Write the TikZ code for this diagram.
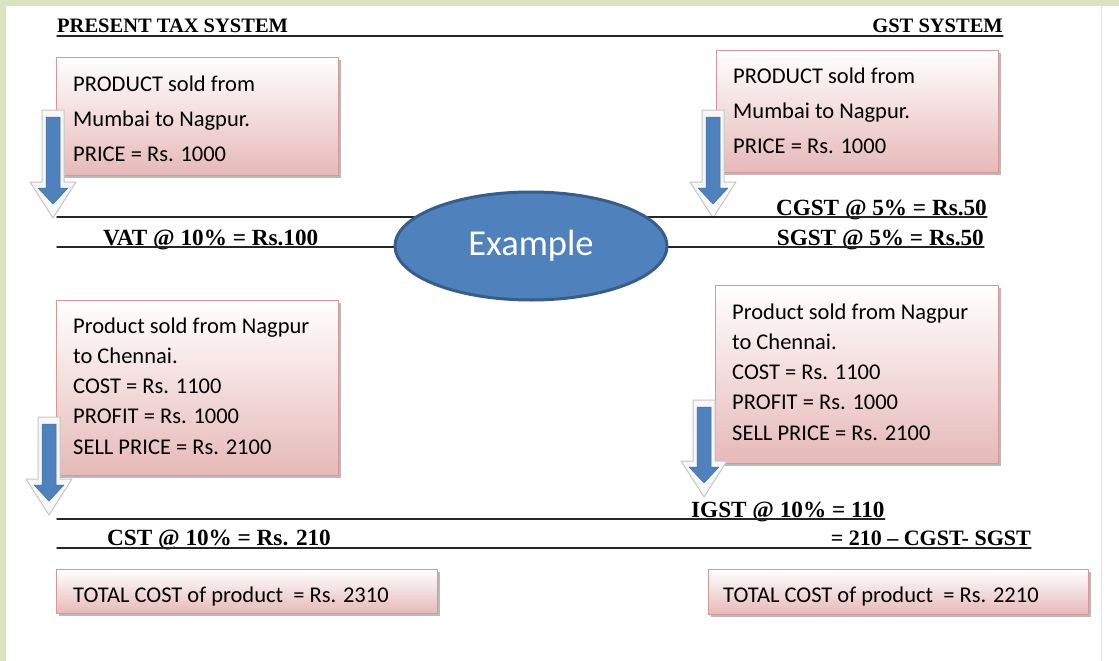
\documentclass[tikz,border=0pt]{standalone}
\usepackage{fontspec}
\setmainfont{Carlito}
\newfontfamily\headfont{Liberation Serif}
\usetikzlibrary{shapes.geometric,shadows}
\definecolor{frame}{HTML}{D7E4BD}
\definecolor{edge}{HTML}{E2E2D6}
\definecolor{pinkfill}{HTML}{E6B9B8}
\definecolor{pinkline}{HTML}{D99694}
\definecolor{ovalblue}{HTML}{4F81BD}
\definecolor{ovalline}{HTML}{385D8A}
\tikzset{
  pbox/.style={draw=pinkline,line width=0.8pt,top color=white,bottom color=pinkfill,
    drop shadow={shadow xshift=3pt,shadow yshift=-3pt,fill=black!45,opacity=.6},anchor=north west,inner sep=0pt},
  btext/.style={anchor=base west,inner sep=0pt,align=left,font=\fontsize{22.5}{35}\selectfont},
  hdr/.style={inner sep=0pt,font=\headfont\bfseries\fontsize{20.5}{24}\selectfont},
  tax/.style={inner sep=0pt,font=\headfont\bfseries\fontsize{23.2}{27}\selectfont},
  rule/.style={line width=1.4pt,black!85},
  oval/.style={ellipse,draw=ovalline,line width=3pt,fill=ovalblue,text=white,
    minimum width=272pt,minimum height=108pt,font=\fontsize{36.5}{42}\selectfont},
  arrowback/.style={fill=gray!6,draw=gray!45,line width=1pt,line join=round},
  arrowfront/.style={fill=ovalblue,draw=ovalblue!85!black,line width=0.5pt}
}
\begin{document}
\begin{tikzpicture}[line cap=round,line join=round,x=1pt,y=-1pt]
	\useasboundingbox (0,0) rectangle (1119,661);
	\fill [frame] (0,0) rectangle (1119,661);
	\fill [white] (6,6) rectangle (1119,661);
	\draw [edge,line width=1pt] (1101,6) -- (1101,661);
	% headings
	\node [hdr,anchor=base west] (hl) at (57,33) {PRESENT TAX SYSTEM};
	\node [hdr,anchor=base east] (hr) at (1003,33) {GST SYSTEM};
	\draw [rule] ([yshift=-3pt]hl.base west) -- ([yshift=-3pt]hr.base east);
	% boxes (text anchored at the last line)
	\node [pbox,minimum width=282pt,minimum height=118pt] (b1) at (56,57) {};
	\node [pbox,minimum width=282pt,minimum height=122pt] (b2) at (716,50) {};
	\node [pbox,minimum width=282pt,minimum height=175pt] (b3) at (56,300) {};
	\node [pbox,minimum width=283pt,minimum height=178pt] (b4) at (715,285) {};
	\node [pbox,minimum width=381pt,minimum height=44pt] (b5) at (56,569) {};
	\node [pbox,minimum width=380pt,minimum height=45pt] (b6) at (708,569) {};
	\node [btext] (t1) at (73,161) {PRODUCT sold from\\Mumbai to Nagpur.\\PRICE = Rs. 1000};
	\node [btext] (t2) at (733,153) {PRODUCT sold from\\Mumbai to Nagpur.\\PRICE = Rs. 1000};
	\node [btext,font=\fontsize{22.5}{30.2}\selectfont] (t3) at (73,454) {Product sold from Nagpur\\to Chennai.\\COST = Rs. 1100\\PROFIT = Rs. 1000\\SELL PRICE = Rs. 2100};
	\node [btext,font=\fontsize{22.5}{30.2}\selectfont] (t4) at (732,440) {Product sold from Nagpur\\to Chennai.\\COST = Rs. 1100\\PROFIT = Rs. 1000\\SELL PRICE = Rs. 2100};
	\node [btext] (t5) at (73,602) {TOTAL COST of product~ = Rs. 2310};
	\node [btext] (t6) at (723,602) {TOTAL COST of product~ = Rs. 2210};
	% arrows: centre, top, tip
	\foreach \c/\t/\p in {53/110/218, 713/110/218, 49/417/515, 704/400/497}{
		\draw [arrowback] (\c-11,\t) -- (\c+11,\t) -- (\c+11,\p-36) -- (\c+23,\p-36) -- (\c,\p)
			-- (\c-23,\p-36) -- (\c-11,\p-36) -- cycle;
		\draw [arrowfront] (\c-7,\t+7) -- (\c+7,\t+7) -- (\c+7,\p-30) -- (\c+15,\p-30) -- (\c,\p-14)
			-- (\c-15,\p-30) -- (\c-7,\p-30) -- cycle;
	}
	% tax lines
	\node [tax,anchor=base west] (vat) at (103,245) {VAT @ 10\% = Rs.100};
	\node [tax,anchor=base east] (cgst) at (987,215) {CGST @ 5\% = Rs.50};
	\node [tax,anchor=base east] (sgst) at (984,245) {SGST @ 5\% = Rs.50};
	\node [tax,anchor=base west] (cst) at (107,545) {CST @ 10\% = Rs. 210};
	\node [tax,anchor=base west] (igst) at (691,517) {IGST @ 10\% = 110};
	\node [tax,anchor=base east,font=\headfont\bfseries\fontsize{22}{26}\selectfont] (diff) at (1031,545) {= 210 – CGST- SGST};
	\coordinate (l1) at (57,217);
	\coordinate (l2) at (57,247);
	\coordinate (l3) at (57,519);
	\coordinate (l4) at (57,548);
	\draw [rule] (l1) -- (l1 -| cgst.east);
	\draw [rule] (l2) -- (l2 -| sgst.east);
	\draw [rule] (l3) -- (l3 -| igst.east);
	\draw [rule] (l4) -- (l4 -| diff.east);
	% centre
	\node [oval] (ex) at (531,246) {Example};
\end{tikzpicture}
\end{document}
